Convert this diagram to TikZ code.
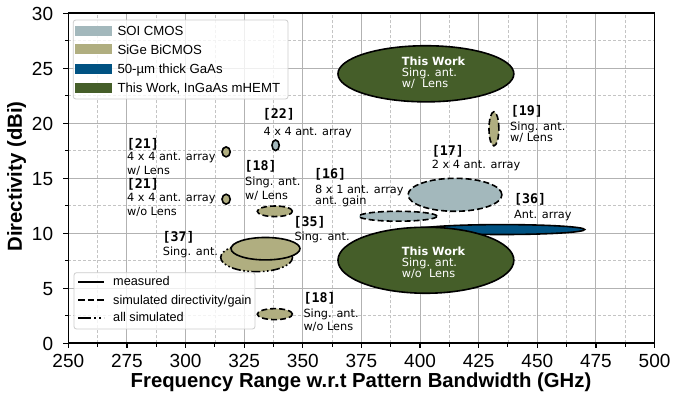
\documentclass[tikz,border=0pt]{standalone}
\usepackage{fontspec}
\setmainfont{Liberation Sans}
\newfontfamily\descfont{DejaVu Sans}
\newfontfamily\refmono{DejaVu Sans Mono}
\definecolor{soicol}{RGB}{163,184,188}
\definecolor{sigecol}{RGB}{176,174,128}
\definecolor{gaascol}{RGB}{0,82,130}
\definecolor{workcol}{RGB}{69,94,41}
\definecolor{gridmaj}{RGB}{178,178,178}
\definecolor{gridmin}{RGB}{196,196,196}
\definecolor{legedge}{RGB}{204,204,204}
\begin{document}
\begin{tikzpicture}[x=1pt,y=1pt,
  bubble/.style={draw=black,line width=1.6pt},
  simd/.style={dash pattern=on 6pt off 3pt},
  alls/.style={dash pattern=on 9pt off 2.5pt on 1.6pt off 2.5pt on 1.6pt off 2.5pt},
  majgrid/.style={draw=gridmaj,line width=0.9pt},
  mingrid/.style={draw=gridmin,line width=0.7pt,dash pattern=on 3pt off 2pt},
  ticklbl/.style={inner sep=0pt,font=\fontsize{19}{22}\selectfont},
  axtitle/.style={inner sep=0pt,font=\bfseries\fontsize{20.3}{24}\selectfont},
  reftxt/.style={anchor=base west,inner sep=0pt,font=\refmono\bfseries\fontsize{13.3}{15}\selectfont},
  desctxt/.style={anchor=base west,inner sep=0pt,font=\descfont\fontsize{11.3}{13}\selectfont},
  worktxt/.style={desctxt,text=white},
  workbold/.style={anchor=base west,inner sep=0pt,text=white,font=\descfont\bfseries\fontsize{11.3}{13}\selectfont},
  legtxt/.style={anchor=base west,inner sep=0pt,font=\fontsize{13.2}{15}\selectfont},
  legtxtb/.style={anchor=base west,inner sep=0pt,font=\fontsize{12.7}{15}\selectfont},
  legline/.style={line width=2pt},
  legbox/.style={draw=legedge,fill=white,fill opacity=0.8,rounded corners=2.5pt,line width=0.8pt}]
\useasboundingbox (0,0) rectangle (673,398);
\fill[white] (0,0) rectangle (673,398);
% ---------------- data coordinates ----------------
\begin{scope}[shift={(-517.95,54.7)},x=2.345pt,y=11pt]
  % grid
  \foreach \f in {262.5,287.5,312.5,337.5,362.5,387.5,412.5,437.5,462.5,487.5}
    \draw[mingrid] (\f,0) -- (\f,30);
  \foreach \d in {2.5,7.5,12.5,17.5,22.5,27.5}
    \draw[mingrid] (250,\d) -- (500,\d);
  \foreach \f in {275,300,325,350,375,400,425,450,475}
    \draw[majgrid] (\f,0) -- (\f,30);
  \foreach \d in {5,10,15,20,25}
    \draw[majgrid] (250,\d) -- (500,\d);
  % bubbles
  \draw[bubble,fill=sigecol] (317.3,17.4) ellipse [x radius=1.75,y radius=0.45];
  \draw[bubble,fill=sigecol] (317.3,13.1) ellipse [x radius=1.75,y radius=0.45];
  \draw[bubble,fill=soicol] (338.4,18.0) ellipse [x radius=1.55,y radius=0.48];
  \draw[bubble,simd,fill=sigecol] (338.1,12.0) ellipse [x radius=7.5,y radius=0.48];
  \draw[bubble,simd,fill=sigecol] (338.1,2.65) ellipse [x radius=7.5,y radius=0.5];
  \draw[bubble,alls,fill=sigecol] (330.3,7.8) ellipse [x radius=15.3,y radius=1.29];
  \draw[bubble,fill=sigecol] (334.1,8.6) ellipse [x radius=14.7,y radius=1.02];
  \draw[bubble,simd,fill=soicol] (390.6,11.55) ellipse [x radius=16.6,y radius=0.45];
  \draw[bubble,simd,fill=soicol] (414.9,13.5) ellipse [x radius=20,y radius=1.5];
  \draw[bubble,simd,fill=sigecol] (431.5,19.5) ellipse [x radius=2.1,y radius=1.55];
  \draw[bubble,fill=gaascol] (435,10.34) ellipse [x radius=35.2,y radius=0.45];
  \draw[bubble,fill=workcol] (402.5,7.55) ellipse [x radius=37.5,y radius=3.0];
  \draw[bubble,fill=workcol] (402.5,24.5) ellipse [x radius=37.5,y radius=2.55];
  % ticks
  \foreach \f in {250,275,300,325,350,375,400,425,450,475,500}
    \draw[line width=1.2pt] (\f,0) -- ++(0,-5pt);
  \foreach \f in {262.5,287.5,312.5,337.5,362.5,387.5,412.5,437.5,462.5,487.5}
    \draw[line width=1pt] (\f,0) -- ++(0,-3.5pt);
  \foreach \d in {0,5,10,15,20,25,30}
    \draw[line width=1.2pt] (250,\d) -- ++(-5pt,0);
  \foreach \d in {2.5,7.5,12.5,17.5,22.5,27.5}
    \draw[line width=1pt] (250,\d) -- ++(-3.5pt,0);
  % spines
  \draw[line width=1.6pt] (250,0) rectangle (500,30);
  % tick labels
  \foreach \f in {250,275,300,325,350,375,400,425,450,475,500}
    \path (\f,0) ++(0,-24.2pt) node[ticklbl,anchor=base] (xt\f) {\f};
  \foreach \d in {0,5,10,15,20,25,30}
    \path (250,\d) ++(-15pt,-6.8pt) node[ticklbl,anchor=base east] (yt\d) {\d};
\end{scope}
% ---------------- pixel coordinates (y down) ----------------
\begin{scope}[shift={(0,398)},yscale=-1]
  % axis titles
  \node[axtitle,anchor=base] (xtitle) at (361,387.5) {Frequency Range w.r.t Pattern Bandwidth (GHz)};
  \node[axtitle,rotate=90] (ytitle) at (16.7,176.5) {Directivity (dBi)};
  % annotations
  \node[reftxt] (r22) at (262.7,119) {[22]};
  \node[desctxt] (d22) at (263.3,135.3) {4 x 4 ant. array};
  \node[reftxt] (r21a) at (126.7,148.3) {[21]};
  \node[desctxt] (d21a) at (127,161) {4 x 4 ant. array};
  \node[desctxt] (e21a) at (127,174.5) {w/ Lens};
  \node[reftxt] (r21b) at (126.7,188.3) {[21]};
  \node[desctxt] (d21b) at (127,202) {4 x 4 ant. array};
  \node[desctxt] (e21b) at (127,215.4) {w/o Lens};
  \node[reftxt] (r18a) at (244.3,171) {[18]};
  \node[desctxt] (d18a) at (245,186) {Sing. ant.};
  \node[desctxt] (e18a) at (245,199.3) {w/ Lens};
  \node[reftxt] (r37) at (162.3,241.7) {[37]};
  \node[desctxt] (d37) at (162.7,256) {Sing. ant.};
  \node[reftxt] (r35) at (293.3,226.7) {[35]};
  \node[desctxt] (d35) at (294.3,240.7) {Sing. ant.};
  \node[reftxt] (r18b) at (303.3,302.7) {[18]};
  \node[desctxt] (d18b) at (303.3,317.7) {Sing. ant.};
  \node[desctxt] (e18b) at (303.3,330.7) {w/o Lens};
  \node[reftxt] (r16) at (314,178.3) {[16]};
  \node[desctxt] (d16) at (315,193.5) {8 x 1 ant. array};
  \node[desctxt] (e16) at (315,205) {ant. gain};
  \node[reftxt] (r17) at (431.7,155.7) {[17]};
  \node[desctxt] (d17) at (431.7,169) {2 x 4 ant. array};
  \node[reftxt] (r19) at (510.7,116) {[19]};
  \node[desctxt] (d19) at (510,130.7) {Sing. ant.};
  \node[desctxt] (e19) at (510,141.7) {w/ Lens};
  \node[reftxt] (r36) at (514,204) {[36]};
  \node[desctxt] (d36) at (514,218.7) {Ant. array};
  \node[workbold] (tw1) at (401.7,66) {This Work};
  \node[worktxt] (tw1b) at (401.7,76.7) {Sing. ant.};
  \node[worktxt] (tw1c) at (401.7,87.7) {w/\ \ Lens};
  \node[workbold] (tw2) at (401.7,256) {This Work};
  \node[worktxt] (tw2b) at (401.7,266.7) {Sing. ant.};
  \node[worktxt] (tw2c) at (401.7,277.3) {w/o\ \ Lens};
  % legend 1
  \draw[legbox] (73.3,20) rectangle (288,99);
  \fill[soicol] (74.5,25.8) rectangle (112,35.8);
  \fill[sigecol] (74.5,44.3) rectangle (112,54.3);
  \fill[gaascol] (74.5,63.7) rectangle (112,73.7);
  \fill[workcol] (74.5,82.7) rectangle (112,92.7);
  \node[legtxt] (l1) at (117.3,35.6) {SOI CMOS};
  \node[legtxt] (l2) at (117.3,54.1) {SiGe BiCMOS};
  \node[legtxt] (l3) at (117.3,73.5) {50-µm thick GaAs};
  \node[legtxt] (l4) at (117.3,92.5) {This Work, InGaAs mHEMT};
  % legend 2
  \draw[legbox] (74,272.7) rectangle (255,329);
  \coordinate (m1a) at (78,281.7); \coordinate (m1b) at (104,281.7);
  \coordinate (m2a) at (78,300); \coordinate (m2b) at (104,300);
  \coordinate (m3a) at (78,317.7); \coordinate (m3b) at (104,317.7);
  \draw[legline] (m1a) -- (m1b);
  \draw[legline,dash pattern=on 6.5pt off 3pt] (m2a) -- (m2b);
  \draw[legline,dash pattern=on 13pt off 3pt on 2pt off 3pt on 2pt off 3pt] (m3a) -- (m3b);
  \node[legtxtb] (ml1) at (113,286) {measured};
  \node[legtxtb] (ml2) at (113,304.3) {simulated directivity/gain};
  \node[legtxtb] (ml3) at (113,322) {all simulated};
\end{scope}
\end{tikzpicture}
\end{document}
